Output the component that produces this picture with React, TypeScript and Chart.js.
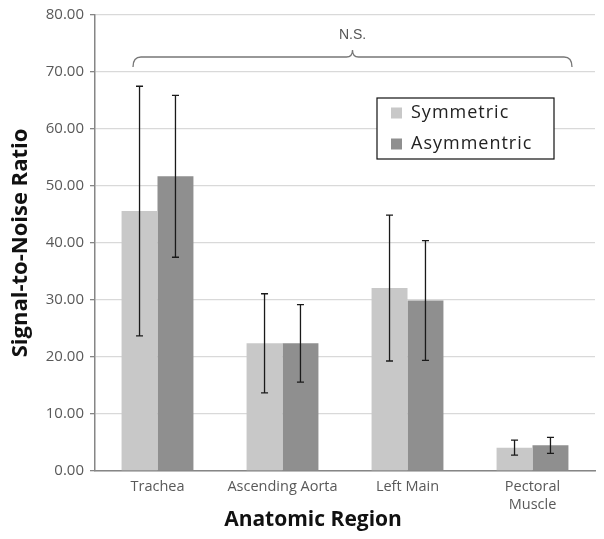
import React, { useEffect, useRef } from "react";
import { Chart, registerables } from "chart.js";

Chart.register(...registerables);

const categories: (string | string[])[] = ["Trachea", "Ascending Aorta", "Left Main", ["Pectoral", "Muscle"]];
const seriesNames = ["Symmetric", "Asymmentric"];
const symmetricValues = [45.6, 22.4, 32.1, 4.1];
const symmetricErrors = [21.9, 8.7, 12.8, 1.3];
const asymmetricValues = [51.7, 22.4, 29.9, 4.5];
const asymmetricErrors = [14.2, 6.8, 10.5, 1.4];
const yTicks = [0, 10, 20, 30, 40, 50, 60, 70, 80];
const yTitle = "Signal-to-Noise Ratio";
const xTitle = "Anatomic Region";
const braceLabel = "N.S.";

const colors = ["#c8c8c8", "#8f8f8f"];
const FONT = "'Open Sans', sans-serif";

const errorBarPlugin = {
  id: "errorBars",
  afterDatasetsDraw(chart: any) {
    const { ctx } = chart;
    const y = chart.scales.y;
    const errs = [symmetricErrors, asymmetricErrors];
    chart.data.datasets.forEach((ds: any, di: number) => {
      const meta = chart.getDatasetMeta(di);
      meta.data.forEach((bar: any, i: number) => {
        const v = ds.data[i];
        const e = errs[di][i];
        const x = bar.x;
        const yt = y.getPixelForValue(v + e);
        const yb = y.getPixelForValue(v - e);
        ctx.save();
        ctx.strokeStyle = "#1a1a1a";
        ctx.lineWidth = 1.3;
        ctx.beginPath();
        ctx.moveTo(x, yt);
        ctx.lineTo(x, yb);
        ctx.moveTo(x - 3.5, yt);
        ctx.lineTo(x + 3.5, yt);
        ctx.moveTo(x - 3.5, yb);
        ctx.lineTo(x + 3.5, yb);
        ctx.stroke();
        ctx.restore();
      });
    });
  },
};

const decorPlugin = {
  id: "decor",
  afterDraw(chart: any) {
    const { ctx, chartArea } = chart;
    const ca = chartArea;
    ctx.save();
    // Y title
    ctx.fillStyle = "#111";
    ctx.font = `bold 22px ${FONT}`;
    ctx.textAlign = "center";
    ctx.textBaseline = "middle";
    ctx.save();
    ctx.translate(ca.left - 74, (ca.top + ca.bottom) / 2);
    ctx.rotate(-Math.PI / 2);
    ctx.fillText(yTitle, 0, 0);
    ctx.restore();
    // X title
    ctx.font = `bold 21px ${FONT}`;
    ctx.fillText(xTitle, ca.left + 218, ca.bottom + 49);

    // Brace
    const bx0 = ca.left + 38;
    const bx1 = ca.left + 477;
    const bmid = (bx0 + bx1) / 2;
    const by = ca.top + 42;
    ctx.strokeStyle = "#777";
    ctx.lineWidth = 1.3;
    ctx.beginPath();
    ctx.moveTo(bx0, by + 10);
    ctx.quadraticCurveTo(bx0, by, bx0 + 8, by);
    ctx.lineTo(bmid - 6, by);
    ctx.quadraticCurveTo(bmid, by, bmid, by - 7);
    ctx.quadraticCurveTo(bmid, by, bmid + 6, by);
    ctx.lineTo(bx1 - 8, by);
    ctx.quadraticCurveTo(bx1, by, bx1, by + 10);
    ctx.stroke();
    ctx.fillStyle = "#555";
    ctx.font = `14px 'Liberation Sans', Arial, sans-serif`;
    ctx.textBaseline = "middle";
    ctx.fillText(braceLabel, bmid, ca.top + 20);

    // Legend
    const lx = ca.left + 282;
    const ly = ca.top + 83;
    const lw = 177;
    const lh = 61;
    ctx.fillStyle = "#fff";
    ctx.fillRect(lx, ly, lw, lh);
    ctx.strokeStyle = "#111";
    ctx.lineWidth = 1.2;
    ctx.strokeRect(lx, ly, lw, lh);
    ctx.font = `18px ${FONT}`;
    (ctx as any).letterSpacing = "1px";
    ctx.textAlign = "left";
    ctx.textBaseline = "middle";
    seriesNames.forEach((name, i) => {
      const cy = ly + 15 + i * 31;
      ctx.fillStyle = colors[i];
      ctx.fillRect(lx + 14, cy - 5.5, 11, 11);
      ctx.fillStyle = "#222";
      ctx.fillText(name, lx + 34, cy);
    });
    (ctx as any).letterSpacing = "0px";
    ctx.restore();
  },
};

export default function App() {
  const ref = useRef<HTMLCanvasElement>(null);
  useEffect(() => {
    if (!ref.current) return;
    const chart = new Chart(ref.current, {
      type: "bar",
      data: {
        labels: categories as any,
        datasets: [
          { label: seriesNames[0], data: symmetricValues, backgroundColor: colors[0], categoryPercentage: 0.575, barPercentage: 1 },
          { label: seriesNames[1], data: asymmetricValues, backgroundColor: colors[1], categoryPercentage: 0.575, barPercentage: 1 },
        ],
      },
      options: {
        responsive: false,
        animation: false,
        layout: { padding: { left: 0, right: 9, top: 15, bottom: 0 } },
        plugins: { legend: { display: false }, tooltip: { enabled: false } },
        scales: {
          x: {
            grid: { display: false, drawTicks: false },
            border: { display: true, color: "#868686", width: 1.5 },
            ticks: { color: "#595959", font: { family: FONT, size: 14.5, lineHeight: 1.25 }, padding: 7, maxRotation: 0 },
            afterFit: (s: any) => { s.height = 68; },
          },
          y: {
            min: 0,
            max: 80,
            afterBuildTicks: (s: any) => { s.ticks = yTicks.map((v) => ({ value: v })); },
            grid: { color: "#d9d9d9", lineWidth: 1.3, tickLength: 5, tickColor: "#868686" },
            border: { color: "#868686", width: 1.5 },
            ticks: { color: "#595959", font: { family: FONT, size: 15 }, padding: 6, callback: (v: any) => Number(v).toFixed(2) },
            afterFit: (s: any) => { s.width = 95; },
          },
        },
      },
      plugins: [errorBarPlugin, decorPlugin],
    });
    return () => chart.destroy();
  }, []);
  return (
    <div style={{ position: "absolute", left: 0, top: 0, width: 604, height: 539, background: "#fff" }}>
      <canvas ref={ref} width={604} height={539} />
    </div>
  );
}
